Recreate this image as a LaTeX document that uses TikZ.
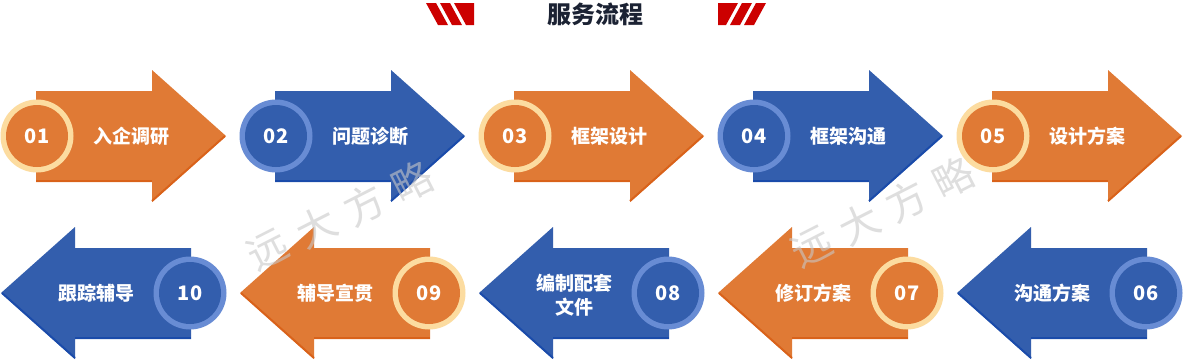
\documentclass[tikz,border=0pt]{standalone}
\usepackage{fontspec}
\newfontfamily\cjk{Noto Sans CJK SC}
\definecolor{orangeA}{HTML}{E07A35}
\definecolor{orangeEdge}{HTML}{D9621A}
\definecolor{orangeRing}{HTML}{FCDCA0}
\definecolor{blueA}{HTML}{335EAD}
\definecolor{blueEdge}{HTML}{1A4BAA}
\definecolor{blueRing}{HTML}{688CD4}
\definecolor{stripeRed}{HTML}{CC0000}
\definecolor{titleInk}{HTML}{1B2233}
\definecolor{markGray}{HTML}{C8C8C8}
\tikzset{
  numtxt/.style={text=white, font=\cjk\bfseries\fontsize{20}{24}\selectfont, inner sep=0pt},
  labtxt/.style={text=white, font=\cjk\bfseries\fontsize{19}{24}\selectfont, inner sep=0pt, align=center},
  titletxt/.style={text=titleInk, font=\cjk\bfseries\fontsize{24}{28}\selectfont, inner sep=0pt},
  marktxt/.style={text=markGray, text opacity=0.6, font=\cjk\fontsize{40}{44}\selectfont, inner sep=0pt, rotate=27},
  edgeline/.style={line width=2pt},
}
% right-pointing arrow: #1 offset, #2 fill, #3 edge, #4 ring, #5 number, #6 label
\newcommand{\ArrowRight}[6]{%
  \fill[#2] (#1+36,91) -- (#1+152,91) -- (#1+152,70) -- (#1+226,136) -- (#1+152,202) -- (#1+152,182) -- (#1+36,182) -- cycle;
  \draw[edgeline,#3] (#1+36,181) -- (#1+152,181);
  \draw[edgeline,#3] (#1+152,201) -- (#1+225,136);
  \fill[#4] (#1+37,136) circle[radius=36.5];
  \fill[#2] (#1+37,136) circle[radius=31];
  \node[numtxt] (n#5) at (#1+37,136) {#5};
  \node[labtxt] (l#5) at (#1+131,136) {#6};
}
% left-pointing arrow
\newcommand{\ArrowLeft}[7]{%
  \fill[#2] (#1+191,248) -- (#1+75,248) -- (#1+75,227) -- (#1+1,293) -- (#1+75,359) -- (#1+75,339) -- (#1+191,339) -- cycle;
  \draw[edgeline,#3] (#1+75,338) -- (#1+191,338);
  \draw[edgeline,#3] (#1+2,293) -- (#1+75,358);
  \fill[#4] (#1+190,293) circle[radius=36.5];
  \fill[#2] (#1+190,293) circle[radius=31];
  \node[numtxt] (n#5) at (#1+190,293) {#5};
  \node[labtxt] (l#5) at (#1+96,#7) {#6};
}
\begin{document}
\begin{tikzpicture}[x=1pt,y=-1pt]
\useasboundingbox (0,0) rectangle (1183,359);
\fill[white] (0,0) rectangle (1183,359);
% title stripes
\fill[stripeRed] (426,3) -- (436,3) -- (448,25) -- (438,25) -- cycle;
\fill[stripeRed] (440,3) -- (450,3) -- (462,25) -- (452,25) -- cycle;
\fill[stripeRed] (454,3) -- (474,3) -- (474,25) -- (466,25) -- cycle;
\fill[stripeRed] (766,3) -- (756,3) -- (744,25) -- (754,25) -- cycle;
\fill[stripeRed] (752,3) -- (742,3) -- (730,25) -- (740,25) -- cycle;
\fill[stripeRed] (738,3) -- (718,3) -- (718,25) -- (726,25) -- cycle;
\node[titletxt] (title) at (595,14) {服务流程};
% top row
\ArrowRight{0}{orangeA}{orangeEdge}{orangeRing}{01}{入企调研}
\ArrowRight{239}{blueA}{blueEdge}{blueRing}{02}{问题诊断}
\ArrowRight{478}{orangeA}{orangeEdge}{orangeRing}{03}{框架设计}
\ArrowRight{717}{blueA}{blueEdge}{blueRing}{04}{框架沟通}
\ArrowRight{956}{orangeA}{orangeEdge}{orangeRing}{05}{设计方案}
% bottom row
\ArrowLeft{0}{blueA}{blueEdge}{blueRing}{10}{跟踪辅导}{293}
\ArrowLeft{239}{orangeA}{orangeEdge}{orangeRing}{09}{辅导宣贯}{293}
\ArrowLeft{478}{blueA}{blueEdge}{blueRing}{08}{编制配套\\文件}{295}
\ArrowLeft{717}{orangeA}{orangeEdge}{orangeRing}{07}{修订方案}{293}
\ArrowLeft{956}{blueA}{blueEdge}{blueRing}{06}{沟通方案}{293}
% watermarks
\node[marktxt] (wa1) at (268,250) {远};
\node[marktxt] (wa2) at (316,227) {大};
\node[marktxt] (wa3) at (364,205) {方};
\node[marktxt] (wa4) at (412,182) {略};
\node[marktxt] (wb1) at (812,247) {远};
\node[marktxt] (wb2) at (859,224) {大};
\node[marktxt] (wb3) at (906,201) {方};
\node[marktxt] (wb4) at (953,178) {略};
\end{tikzpicture}
\end{document}
